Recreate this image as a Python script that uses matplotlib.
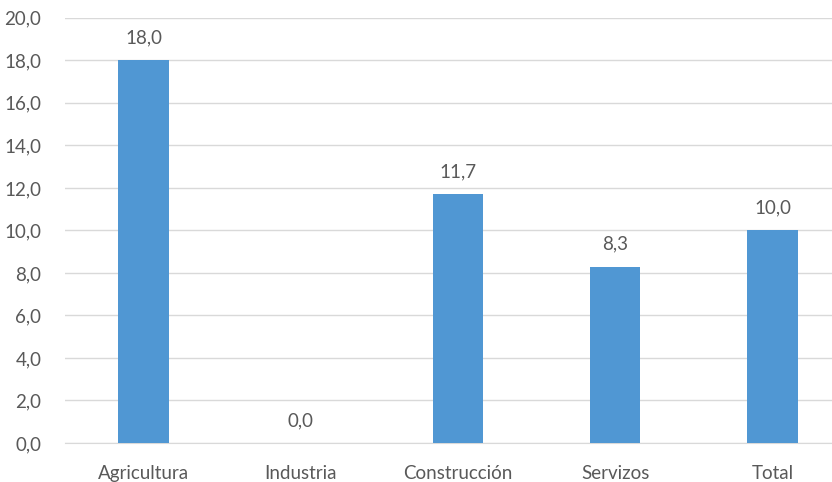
import matplotlib.pyplot as plt

categories = ['Agricultura', 'Industria', 'Construcción', 'Servizos', 'Total']
values = [18.0, 0.0, 11.7, 8.3, 10.0]
yticks = [0, 2, 4, 6, 8, 10, 12, 14, 16, 18, 20]

plt.rcParams['font.family'] = ['Lato', 'DejaVu Sans']
txt = '#595959'

fig = plt.figure(figsize=(8.32, 4.82), dpi=100)
# plot area runs past the right edge of the canvas
ax = fig.add_axes([0.078, 0.081, 0.945, 0.882])

x = range(len(categories))
ax.bar(x, values, width=0.32, color='#5097d3', zorder=3)
for i, v in enumerate(values):
    ax.text(i, v + 0.65, f'{v:.1f}'.replace('.', ','), ha='center', va='bottom',
            fontsize=13.5, color=txt)

ax.set_xlim(-0.5, len(categories) - 0.5)
ax.set_ylim(0, 20)
ax.set_yticks(yticks)
ax.set_yticklabels([f'{t:.1f}'.replace('.', ',') for t in yticks])
ax.set_xticks(list(x))
ax.set_xticklabels(categories)
ax.tick_params(axis='both', length=0, labelsize=13.5, colors=txt)
ax.tick_params(axis='x', pad=16)
ax.tick_params(axis='y', pad=17)
ax.grid(axis='y', color='#d9d9d9', linewidth=1, zorder=0)
for s in ['top', 'right', 'left']:
    ax.spines[s].set_visible(False)
ax.spines['bottom'].set_color('#d9d9d9')

plt.savefig('out.png')
